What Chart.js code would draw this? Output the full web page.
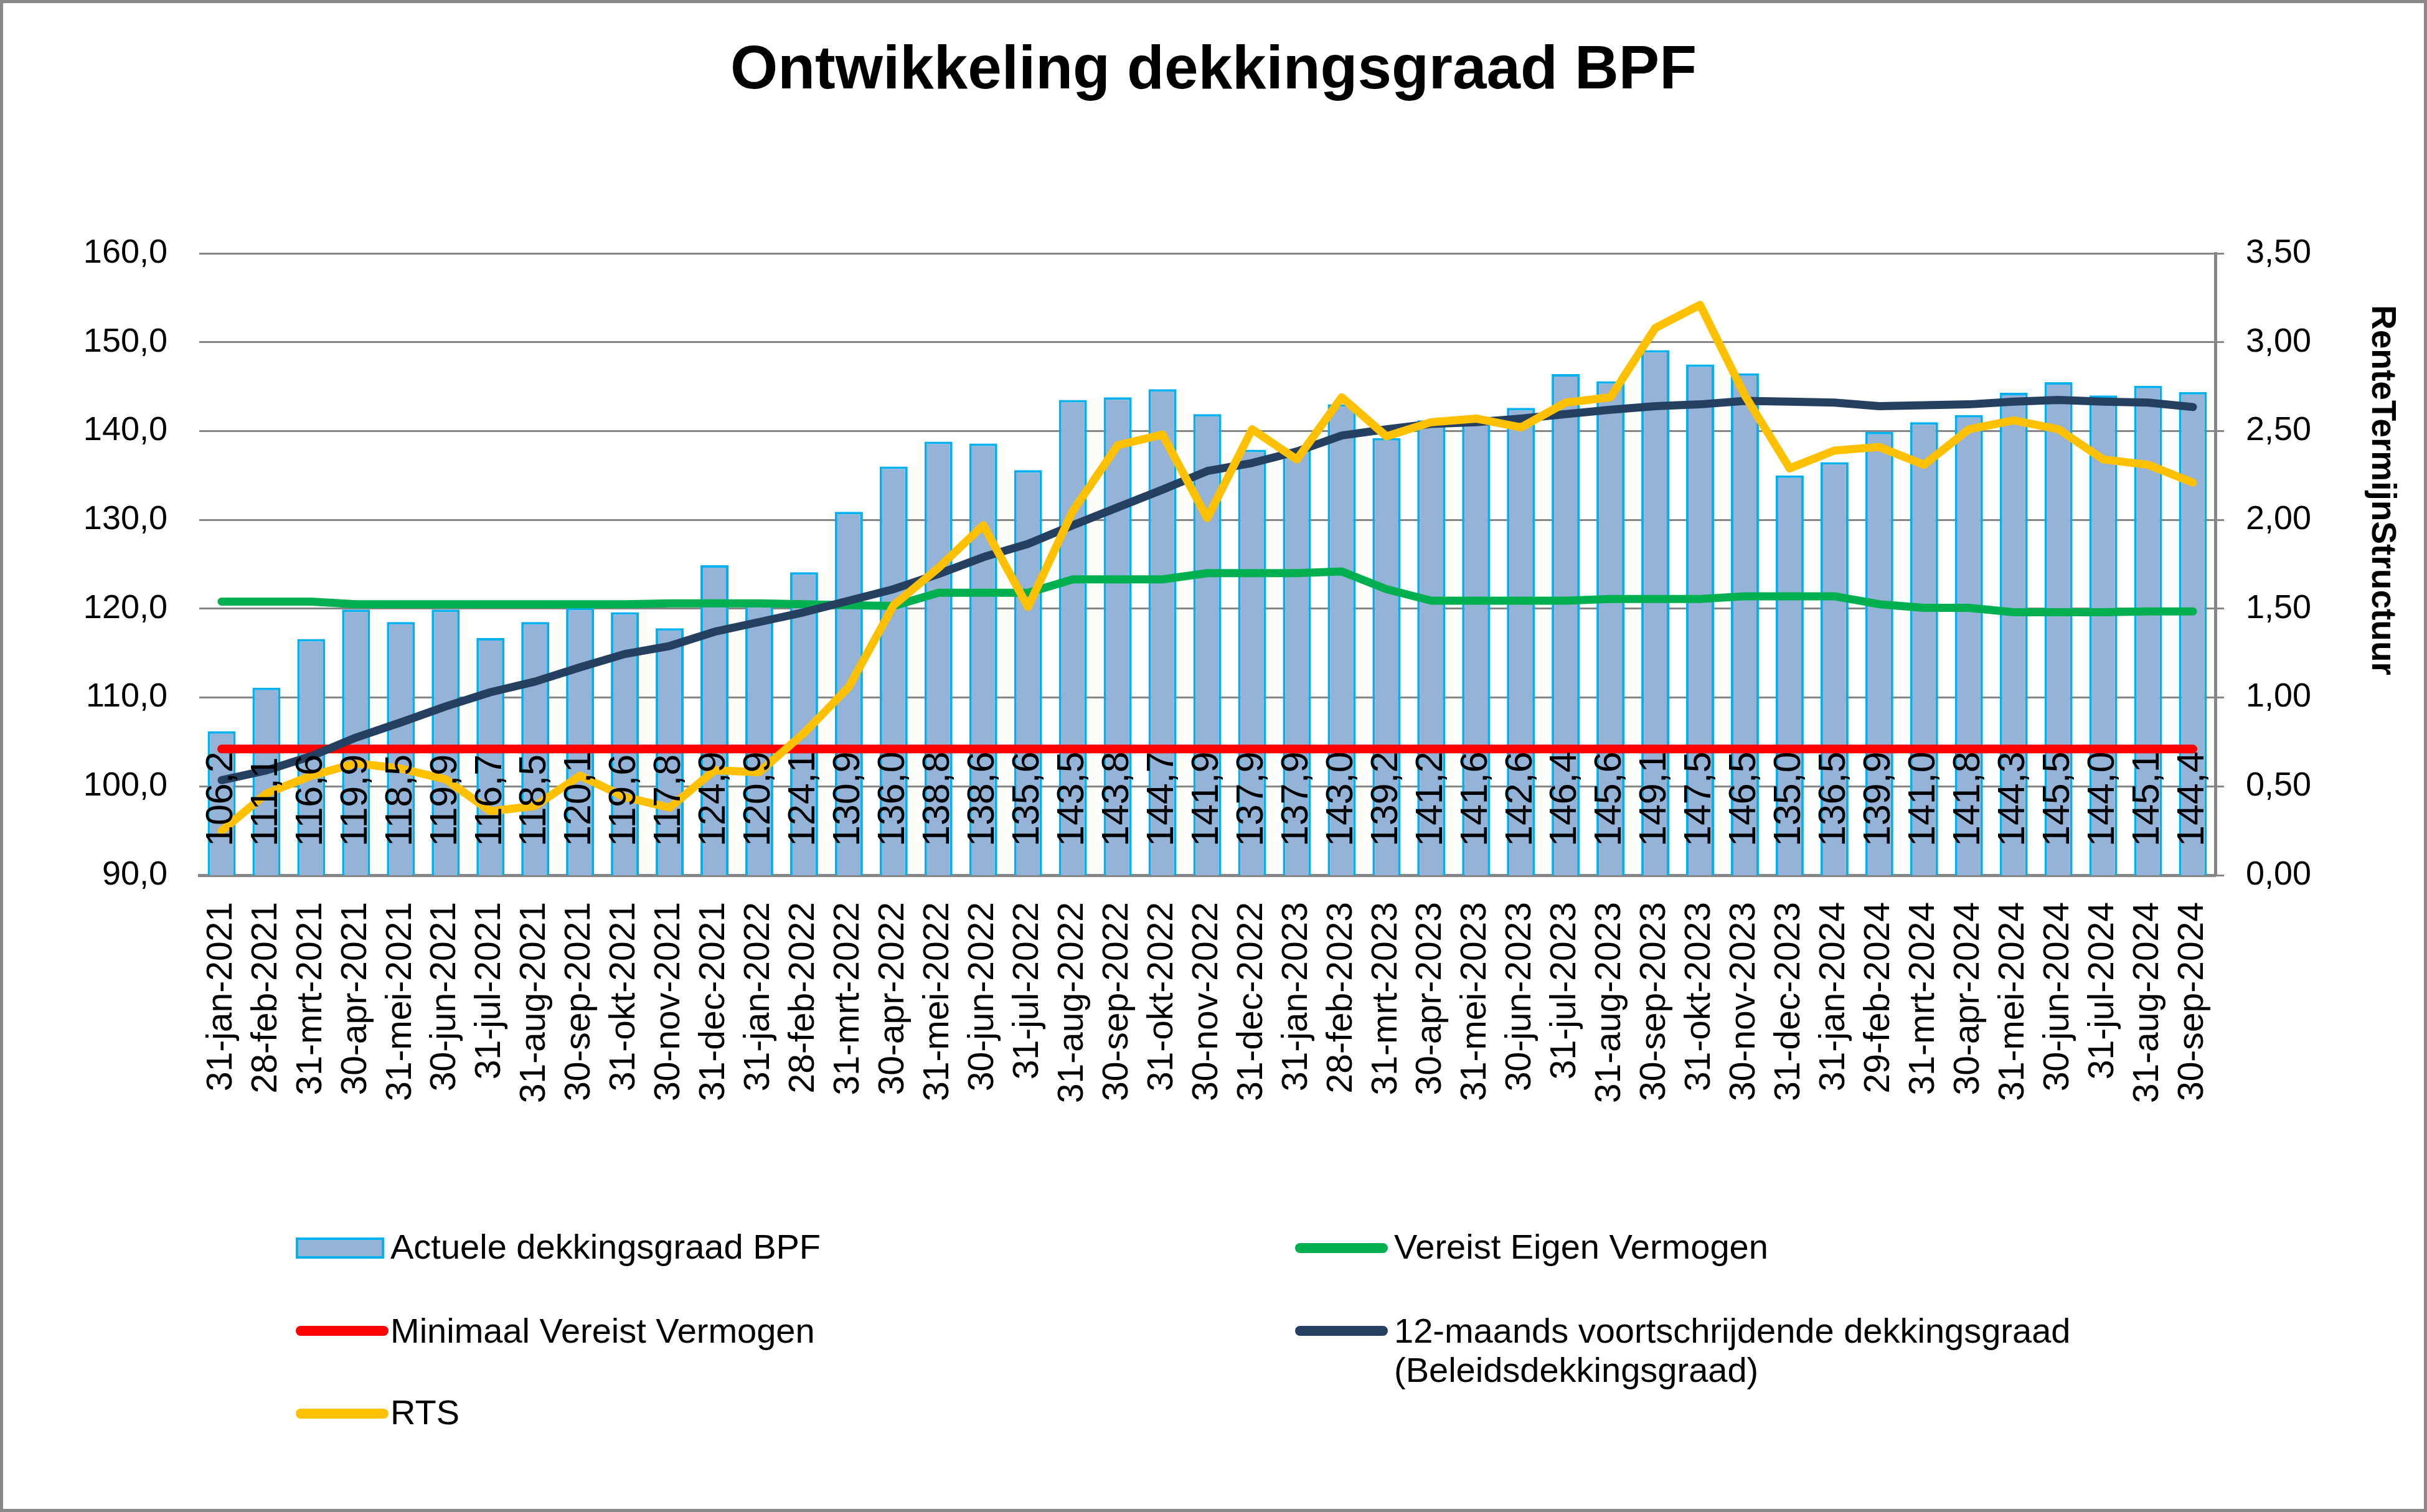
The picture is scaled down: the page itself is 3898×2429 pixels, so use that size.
<!DOCTYPE html>
<html>
<head>
<meta charset="utf-8">
<script src="https://cdn.jsdelivr.net/npm/chart.js@4.4.1/dist/chart.umd.min.js"></script>
<style>
  html, body { margin: 0; padding: 0; background: #ffffff; }
  #wrap { position: relative; width: 3898px; height: 2429px; overflow: hidden; background: #ffffff; }
  #c { position: absolute; left: 0; top: 0; }
  #frame { position: absolute; left: 0; top: 0; width: 3898px; height: 2429px; box-sizing: border-box; border: 5px solid #898989; pointer-events: none; }
  .lg-text { position: absolute; font-family: "Liberation Sans", Arial, sans-serif; font-size: 56px; line-height: 63px; color: #000; width: 1200px; }
  .lg-sw { position: absolute; box-sizing: border-box; }
</style>
</head>
<body>
<div id="wrap">
  <canvas id="c" width="3898" height="2429"></canvas>
  <div id="legend"></div>
  <div id="frame"></div>
</div>
<script>
const categories = [
  '31-jan-2021','28-feb-2021','31-mrt-2021','30-apr-2021','31-mei-2021','30-jun-2021','31-jul-2021','31-aug-2021','30-sep-2021','31-okt-2021','30-nov-2021','31-dec-2021',
  '31-jan-2022','28-feb-2022','31-mrt-2022','30-apr-2022','31-mei-2022','30-jun-2022','31-jul-2022','31-aug-2022','30-sep-2022','31-okt-2022','30-nov-2022','31-dec-2022',
  '31-jan-2023','28-feb-2023','31-mrt-2023','30-apr-2023','31-mei-2023','30-jun-2023','31-jul-2023','31-aug-2023','30-sep-2023','31-okt-2023','30-nov-2023','31-dec-2023',
  '31-jan-2024','29-feb-2024','31-mrt-2024','30-apr-2024','31-mei-2024','30-jun-2024','31-jul-2024','31-aug-2024','30-sep-2024'
];

const actueleDekkingsgraad = [
  106.2,111.1,116.6,119.9,118.5,119.9,116.7,118.5,120.1,119.6,117.8,124.9,
  120.9,124.1,130.9,136.0,138.8,138.6,135.6,143.5,143.8,144.7,141.9,137.9,
  137.9,143.0,139.2,141.2,141.6,142.6,146.4,145.6,149.1,147.5,146.5,135.0,
  136.5,139.9,141.0,141.8,144.3,145.5,144.0,145.1,144.4
];

const vereistEigenVermogen = [
  120.8,120.8,120.8,120.5,120.5,120.5,120.5,120.5,120.5,120.5,120.6,120.6,
  120.6,120.5,120.4,120.3,121.8,121.8,121.8,123.3,123.3,123.3,124.0,124.0,
  124.0,124.2,122.2,120.9,120.9,120.9,120.9,121.1,121.1,121.1,121.4,121.4,
  121.4,120.5,120.1,120.1,119.6,119.6,119.6,119.7,119.7
];

const minimaalVereistVermogen = [
  104.2,104.2,104.2,104.2,104.2,104.2,104.2,104.2,104.2,104.2,104.2,104.2,
  104.2,104.2,104.2,104.2,104.2,104.2,104.2,104.2,104.2,104.2,104.2,104.2,
  104.2,104.2,104.2,104.2,104.2,104.2,104.2,104.2,104.2,104.2,104.2,104.2,
  104.2,104.2,104.2,104.2,104.2,104.2,104.2,104.2,104.2
];

const beleidsdekkingsgraad = [
  100.7,101.8,103.4,105.5,107.2,109.0,110.6,111.8,113.4,114.9,115.8,117.4,
  118.5,119.6,120.9,122.2,123.9,125.8,127.3,129.4,131.4,133.4,135.5,136.4,
  137.7,139.5,140.2,140.8,141.0,141.4,141.9,142.4,142.8,143.0,143.4,143.3,
  143.2,142.8,142.9,143.0,143.3,143.5,143.3,143.2,142.7
];

const rts = [
  0.25,0.46,0.56,0.63,0.60,0.54,0.36,0.39,0.56,0.44,0.38,0.59,
  0.58,0.80,1.06,1.52,1.73,1.97,1.51,2.05,2.42,2.48,2.01,2.51,
  2.34,2.69,2.47,2.55,2.57,2.52,2.66,2.69,3.08,3.21,2.70,2.29,
  2.39,2.41,2.31,2.51,2.56,2.51,2.34,2.31,2.21
];

const leftTickValues = [90,100,110,120,130,140,150,160];
const leftTickLabels = ['90,0','100,0','110,0','120,0','130,0','140,0','150,0','160,0'];
const rightTickValues = [0,0.5,1,1.5,2,2.5,3,3.5];
const rightTickLabels = ['0,00','0,50','1,00','1,50','2,00','2,50','3,00','3,50'];

const chartTitle = 'Ontwikkeling dekkingsgraad BPF';
const rightAxisTitle = 'RenteTermijnStructuur';
const seriesNames = [
  'Actuele dekkingsgraad BPF',
  'Vereist Eigen Vermogen',
  'Minimaal Vereist Vermogen',
  '12-maands voortschrijdende dekkingsgraad (Beleidsdekkingsgraad)',
  'RTS'
];

const FONT = '"Liberation Sans", Arial, sans-serif';
const GRID = '#868686';

const barLabelPlugin = {
  id: 'barLabels',
  afterDatasetsDraw(chart) {
    const meta = chart.getDatasetMeta(0);
    const ctx = chart.ctx;
    const base = chart.scales.y.bottom;
    const vals = chart.data.datasets[0].data;
    ctx.save();
    ctx.font = '61px ' + FONT;
    ctx.fillStyle = '#000';
    ctx.textAlign = 'left';
    ctx.textBaseline = 'middle';
    meta.data.forEach((el, i) => {
      ctx.save();
      ctx.translate(el.x, base - 46);
      ctx.rotate(-Math.PI / 2);
      ctx.fillText(vals[i].toFixed(1).replace('.', ','), 0, 0);
      ctx.restore();
    });
    ctx.restore();
  }
};

const rightTitlePlugin = {
  id: 'rightTitle',
  afterDraw(chart) {
    const ctx = chart.ctx;
    ctx.save();
    ctx.font = 'bold 55px ' + FONT;
    ctx.fillStyle = '#000';
    ctx.textAlign = 'left';
    ctx.textBaseline = 'middle';
    ctx.translate(3825, 490);
    ctx.rotate(Math.PI / 2);
    ctx.fillText(rightAxisTitle, 0, 0);
    ctx.restore();
  }
};

const chart = new Chart(document.getElementById('c'), {
  type: 'bar',
  data: {
    labels: categories,
    datasets: [
      {
        type: 'bar', label: seriesNames[0], data: actueleDekkingsgraad, yAxisID: 'y',
        backgroundColor: '#95B3D7', borderColor: '#00B0F0', borderWidth: 4, borderSkipped: false,
        barPercentage: 0.625, categoryPercentage: 1.0, order: 5
      },
      {
        type: 'line', label: seriesNames[1], data: vereistEigenVermogen, yAxisID: 'y',
        borderColor: '#00B050', backgroundColor: '#00B050', borderWidth: 13, pointRadius: 0,
        tension: 0, borderCapStyle: 'round', borderJoinStyle: 'round', fill: false, order: 4
      },
      {
        type: 'line', label: seriesNames[2], data: minimaalVereistVermogen, yAxisID: 'y',
        borderColor: '#FF0000', backgroundColor: '#FF0000', borderWidth: 14, pointRadius: 0,
        tension: 0, borderCapStyle: 'round', borderJoinStyle: 'round', fill: false, order: 3
      },
      {
        type: 'line', label: seriesNames[3], data: beleidsdekkingsgraad, yAxisID: 'y',
        borderColor: '#243F60', backgroundColor: '#243F60', borderWidth: 13, pointRadius: 0,
        tension: 0, borderCapStyle: 'round', borderJoinStyle: 'round', fill: false, order: 2
      },
      {
        type: 'line', label: seriesNames[4], data: rts, yAxisID: 'y1',
        borderColor: '#FFC000', backgroundColor: '#FFC000', borderWidth: 13, pointRadius: 0,
        tension: 0, borderCapStyle: 'round', borderJoinStyle: 'round', fill: false, order: 1
      }
    ]
  },
  options: {
    responsive: false,
    devicePixelRatio: 1,
    animation: false,
    layout: { padding: { left: 0, right: 0, top: 0, bottom: 423 } },
    plugins: {
      legend: { display: false },
      tooltip: { enabled: false },
      title: {
        display: true, text: chartTitle, color: '#000',
        font: { family: FONT, size: 98, weight: 'bold' },
        padding: { top: 56, bottom: 233.4 }
      }
    },
    scales: {
      x: {
        offset: true,
        grid: { display: false, drawTicks: false },
        border: { display: true, color: GRID, width: 5 },
        ticks: {
          autoSkip: false, minRotation: 90, maxRotation: 90, padding: 43, color: '#000',
          font: { family: FONT, size: 57 }
        },
        afterFit(s) { s.height = 600; }
      },
      y: {
        position: 'left', min: 90, max: 160,
        grid: { color: GRID, lineWidth: 3, drawTicks: false },
        border: { display: false },
        ticks: {
          stepSize: 10, padding: 51, color: '#000', font: { family: FONT, size: 54 },
          callback: (v) => leftTickLabels[leftTickValues.indexOf(v)]
        },
        afterFit(s) { s.width = 320; }
      },
      y1: {
        position: 'right', min: 0, max: 3.5,
        grid: { drawOnChartArea: false, drawTicks: true, tickLength: 14, color: GRID, lineWidth: 3 },
        border: { display: true, color: GRID, width: 5 },
        ticks: {
          stepSize: 0.5, padding: 35, color: '#000', font: { family: FONT, size: 54 },
          callback: (v) => rightTickLabels[rightTickValues.indexOf(v)]
        },
        afterFit(s) { s.width = 340; }
      }
    }
  },
  plugins: [barLabelPlugin, rightTitlePlugin]
});

// HTML legend built from the chart's datasets (two columns, row-major)
const legendLayout = {
  swatchX: [475, 2080],
  textX: [627, 2239],
  rowCenter: [2005, 2138, 2271],
  textTop: [1971, 2106, 2237]
};
const legendEl = document.getElementById('legend');
chart.data.datasets.forEach((ds, i) => {
  const col = i % 2, row = Math.floor(i / 2);
  const sw = document.createElement('div');
  sw.className = 'lg-sw';
  if (ds.type === 'bar') {
    sw.style.left = legendLayout.swatchX[col] + 'px';
    sw.style.top = (legendLayout.rowCenter[row] - 17) + 'px';
    sw.style.width = '142px';
    sw.style.height = '34px';
    sw.style.background = ds.backgroundColor;
    sw.style.border = '4px solid ' + ds.borderColor;
  } else {
    sw.style.left = legendLayout.swatchX[col] + 'px';
    sw.style.top = (legendLayout.rowCenter[row] - 8) + 'px';
    sw.style.width = '149px';
    sw.style.height = '16px';
    sw.style.borderRadius = '8px';
    sw.style.background = ds.borderColor;
  }
  legendEl.appendChild(sw);
  const tx = document.createElement('div');
  tx.className = 'lg-text';
  tx.style.left = legendLayout.textX[col] + 'px';
  tx.style.top = legendLayout.textTop[row] + 'px';
  tx.textContent = ds.label;
  legendEl.appendChild(tx);
});
</script>
</body>
</html>
